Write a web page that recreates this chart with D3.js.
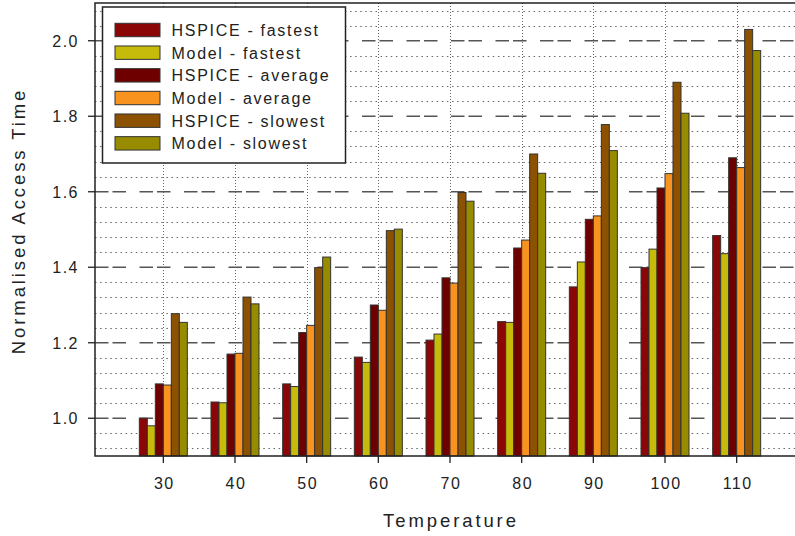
<!DOCTYPE html>
<html lang="en">
<head>
  <meta charset="UTF-8">
  <title>Normalised Access Time</title>
  <script src="https://d3js.org/d3.v7.min.js"></script>
  <style>
    body { margin: 0; background: white; }
    svg { display: block; font-family: "Liberation Sans", Arial, sans-serif; }
    .tick-label { font-size: 16px; fill: #222; letter-spacing: 1.5px; }
    .legend-label { font-size: 16px; fill: #222; letter-spacing: 1.7px; }
    .axis-title { font-size: 18.5px; fill: #222; letter-spacing: 2.9px; }
  </style>
</head>
<body>
  <div id="chart"></div>
  <script>
    // data
    const temps = [30, 40, 50, 60, 70, 80, 90, 100, 110];
    const hspiceFastest = [1.000, 1.043, 1.091, 1.162, 1.207, 1.256, 1.348, 1.399, 1.484];
    const modelFastest  = [0.980, 1.041, 1.084, 1.148, 1.223, 1.254, 1.414, 1.448, 1.436];
    const hspiceAverage = [1.091, 1.170, 1.227, 1.300, 1.372, 1.451, 1.527, 1.610, 1.690];
    const modelAverage  = [1.088, 1.172, 1.246, 1.286, 1.358, 1.472, 1.536, 1.648, 1.664];
    const hspiceSlowest = [1.277, 1.321, 1.399, 1.497, 1.598, 1.700, 1.778, 1.890, 2.030];
    const modelSlowest  = [1.254, 1.303, 1.427, 1.501, 1.575, 1.649, 1.709, 1.808, 1.974];
    const seriesNames = ["HSPICE - fastest", "Model - fastest", "HSPICE - average",
                         "Model - average", "HSPICE - slowest", "Model - slowest"];
    const seriesColors = ["#8b0606", "#c6bb0b", "#6f0000", "#f7931e", "#8c5202", "#978c00"];
    const yTicks = [1.0, 1.2, 1.4, 1.6, 1.8, 2.0];

    const series = [hspiceFastest, modelFastest, hspiceAverage, modelAverage, hspiceSlowest, modelSlowest];

    const width = 795, height = 536;
    const plotLeft = 95, plotTop = 3, plotBottom = 456, plotRight = 810;

    const svg = d3.select("#chart").append("svg")
      .attr("width", width)
      .attr("height", height);

    const x = d3.scaleLinear().domain([30, 110]).range([163.33, 736.67]);
    const y = d3.scaleLinear().domain([0.9, 2.1]).range([plotBottom, plotTop]);
    const offset = d3.scaleBand().domain(d3.range(series.length)).range([-24, 24]);

    const grid = svg.append("g");

    // minor dotted horizontal lines every 0.04
    const minor = d3.range(0.92, 2.1, 0.04).filter(v => Math.abs((v * 5) - Math.round(v * 5)) > 0.01);
    grid.selectAll(".minor")
      .data(minor)
      .join("line")
      .attr("x1", plotLeft).attr("x2", plotRight)
      .attr("y1", d => Math.round(y(d)) + 0.5).attr("y2", d => Math.round(y(d)) + 0.5)
      .attr("stroke", "#666")
      .attr("stroke-width", 1)
      .attr("stroke-dasharray", "1.5,3.6");

    // vertical dotted lines at categories
    grid.selectAll(".vgrid")
      .data(temps)
      .join("line")
      .attr("x1", d => Math.round(x(d)) + 0.5).attr("x2", d => Math.round(x(d)) + 0.5)
      .attr("y1", plotTop).attr("y2", plotBottom)
      .attr("stroke", "#666")
      .attr("stroke-width", 1)
      .attr("stroke-dasharray", "1,2");

    // major dashed lines
    grid.selectAll(".major")
      .data(yTicks)
      .join("line")
      .attr("x1", plotLeft).attr("x2", plotRight)
      .attr("y1", d => y(d)).attr("y2", d => y(d))
      .attr("stroke", "#555")
      .attr("stroke-width", 1.3)
      .attr("stroke-dasharray", "13.5,4,13.5,13.5");

    // bars
    const bars = svg.append("g");
    series.forEach((vals, si) => {
      bars.selectAll(".s" + si)
        .data(vals)
        .join("rect")
        .attr("x", (d, i) => x(temps[i]) + offset(si))
        .attr("y", d => y(d))
        .attr("width", offset.bandwidth())
        .attr("height", d => plotBottom - y(d))
        .attr("fill", seriesColors[si])
        .attr("stroke", "#333")
        .attr("stroke-width", 1);
    });

    // frame
    svg.append("path")
      .attr("d", `M${plotRight},${plotTop}H${plotLeft}V${plotBottom}H${plotRight}`)
      .attr("fill", "none")
      .attr("stroke", "#222")
      .attr("stroke-width", 1.5);

    // y axis ticks and labels
    const yAxis = svg.append("g");
    yAxis.selectAll("line")
      .data(yTicks)
      .join("line")
      .attr("x1", plotLeft - 7).attr("x2", plotLeft)
      .attr("y1", d => y(d)).attr("y2", d => y(d))
      .attr("stroke", "#222").attr("stroke-width", 1.3);
    yAxis.selectAll("text")
      .data(yTicks)
      .join("text")
      .attr("class", "tick-label")
      .attr("x", 79)
      .attr("y", d => y(d) + 6)
      .attr("text-anchor", "end")
      .text(d => d3.format(".1f")(d));

    // x axis ticks and labels
    const xAxis = svg.append("g");
    xAxis.selectAll("line")
      .data(temps)
      .join("line")
      .attr("x1", d => x(d)).attr("x2", d => x(d))
      .attr("y1", plotBottom).attr("y2", plotBottom + 7)
      .attr("stroke", "#222").attr("stroke-width", 1.3);
    xAxis.selectAll("text")
      .data(temps)
      .join("text")
      .attr("class", "tick-label")
      .attr("x", d => x(d) + 1)
      .attr("y", 488.5)
      .attr("text-anchor", "middle")
      .text(d => d);

    // axis titles
    svg.append("text")
      .attr("class", "axis-title")
      .attr("x", 451)
      .attr("y", 526.5)
      .attr("text-anchor", "middle")
      .text("Temperature");

    svg.append("text")
      .attr("class", "axis-title")
      .attr("transform", "translate(25,221) rotate(-90)")
      .attr("text-anchor", "middle")
      .text("Normalised Access Time");

    // legend
    const legend = svg.append("g");
    legend.append("rect")
      .attr("x", 102.5).attr("y", 7)
      .attr("width", 243).attr("height", 156)
      .attr("fill", "white")
      .attr("stroke", "#222")
      .attr("stroke-width", 1.5);

    const rows = legend.selectAll(".row")
      .data(seriesNames)
      .join("g")
      .attr("transform", (d, i) => `translate(0,${23.3 + i * 22.67})`);
    rows.append("rect")
      .attr("x", 115).attr("y", 0)
      .attr("width", 45).attr("height", 13.4)
      .attr("fill", (d, i) => seriesColors[i])
      .attr("stroke", "#333")
      .attr("stroke-width", 1);
    rows.append("text")
      .attr("class", "legend-label")
      .attr("x", 171.5)
      .attr("y", 12.8)
      .text(d => d);
  </script>
</body>
</html>
